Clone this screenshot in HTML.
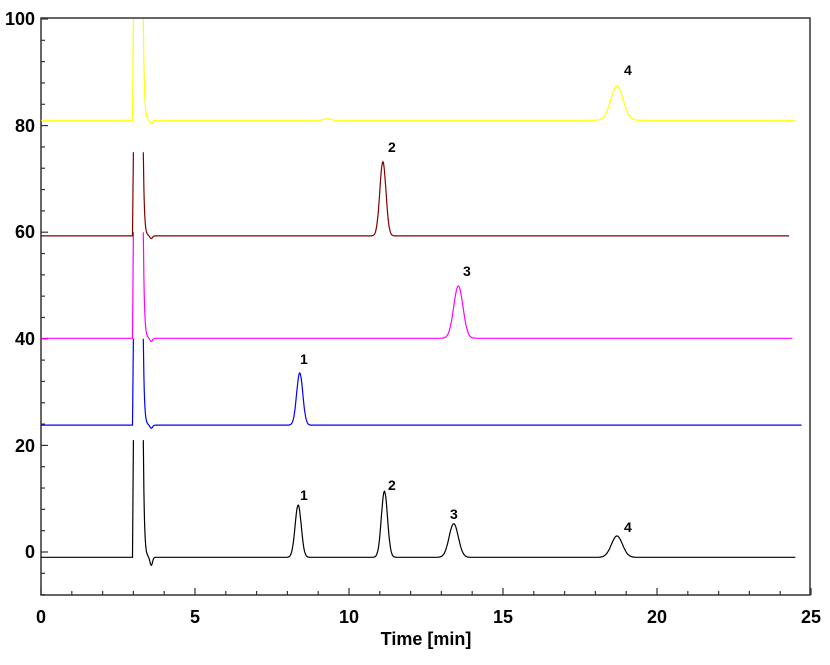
<!DOCTYPE html>
<html><head><meta charset="utf-8"><style>
body{margin:0;background:#fff}
svg text{font-family:"Liberation Sans",sans-serif;font-weight:bold}
</style></head><body>
<svg id="s" width="830" height="660" xmlns="http://www.w3.org/2000/svg">
<rect x="41" y="18" width="769" height="577" fill="none" stroke="#333" stroke-width="1.5"/>
<g id="ticks" stroke="#333" stroke-width="1.2"></g>
<g font-size="18" text-anchor="end">
<text x="35" y="558">0</text><text x="35" y="452">20</text><text x="35" y="345">40</text><text x="35" y="238">60</text><text x="35" y="132">80</text><text x="35" y="25">100</text>
</g>
<g font-size="18" text-anchor="middle">
<text x="41" y="623">0</text><text x="195" y="623">5</text><text x="349" y="623">10</text><text x="503" y="623">15</text><text x="657" y="623">20</text><text x="811" y="623">25</text>
<text x="426" y="645">Time [min]</text>
</g>
<g id="tr" fill="none" stroke-width="1.2"></g>
<g font-size="14">
<text x="624" y="75">4</text><text x="388" y="152">2</text><text x="463" y="276">3</text><text x="300" y="364">1</text>
<text x="300" y="500">1</text><text x="388" y="490">2</text><text x="450" y="519">3</text><text x="624" y="532">4</text>
</g>
</svg>
<script>
const X=t=>41+t*30.8, Y=v=>552-v*5.33;
let tk=document.getElementById('ticks'),h='';
for(let t=0;t<=25;t++){let l=t%5==0?7:4;h+=`<line x1="${X(t)}" x2="${X(t)}" y1="595" y2="${595-l}"/>`}
for(let v=-8;v<=100;v+=4){let l=v%20==0?7:4;h+=`<line x1="41" x2="${41+l}" y1="${Y(v)}" y2="${Y(v)}"/>`}
tk.innerHTML=h;
const g=(t,m,s)=>Math.exp(-((t-m)*(t-m))/(2*s*s));
function tr(col,base,top,peaks,end,dip){
 const f=t=>{let v=base-dip*g(t,3.58,0.04);for(const p of peaks)v+=p[1]*g(t,p[0],p[2]);return v;};
 let d='';
 for(let t=0;t<=2.97;t+=0.01)d+=(d?'L':'M')+X(t).toFixed(1)+','+Y(f(t)).toFixed(1);
 d+='L'+X(3.0).toFixed(1)+','+Y(top).toFixed(1);
 d+='M'+X(3.32).toFixed(1)+','+Y(top).toFixed(1);
 for(let t=3.34;t<=end;t+=0.01){
  let v=f(t)+ (t<3.6? (top-base)*Math.exp(-(t-3.32)/0.035):0);
  d+='L'+X(t).toFixed(1)+','+Y(Math.min(v,top)).toFixed(1);
 }
 return `<path d="${d}" stroke="${col}"/>`;
}
document.getElementById('tr').innerHTML=
 tr('#000',-1,21,[[8.35,9.8,0.1],[11.15,12.4,0.1],[13.4,6.3,0.15],[18.7,4,0.18]],24.5,1.5)+
 tr('#0000ff',23.8,40,[[8.4,9.8,0.1]],24.7,0.6)+
 tr('#ff00ff',40.1,60,[[13.55,9.8,0.15]],24.4,0.6)+
 tr('#800000',59.3,75,[[11.1,13.9,0.1]],24.3,0.5)+
 tr('#ffff00',81,100,[[18.7,6.4,0.2],[9.3,0.3,0.1]],24.5,0.6);
</script>
</body></html>
